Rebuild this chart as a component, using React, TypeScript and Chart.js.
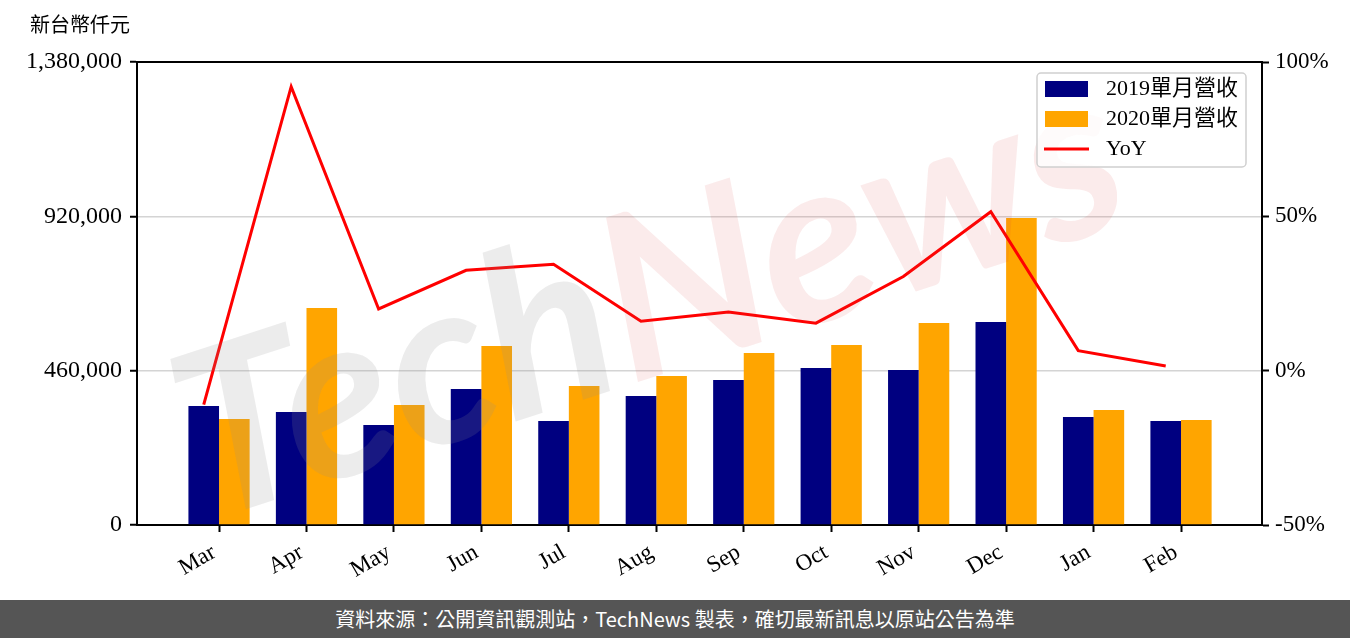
import { useEffect, useRef } from "react";
import { Chart, registerables } from "chart.js";

Chart.register(...registerables);

const months = ["Mar", "Apr", "May", "Jun", "Jul", "Aug", "Sep", "Oct", "Nov", "Dec", "Jan", "Feb"];
const revenue2019 = [355000, 337000, 298000, 405000, 310000, 384500, 432000, 468000, 462000, 605000, 322000, 310000];
const revenue2020 = [316000, 647000, 358000, 533500, 414000, 444000, 513000, 536500, 602000, 915000, 343000, 313000];
const yoyPercent = [-11, 92, 20, 32.5, 34.5, 16, 19, 15.4, 30.5, 51.5, 6.5, 1.5];
const leftTicks = [0, 460000, 920000, 1380000];
const rightTicks = [-50, 0, 50, 100];
const label2019 = "2019單月營收";
const label2020 = "2020單月營收";
const labelYoY = "YoY";
const unitTitle = "新台幣仟元";
const footerText = "資料來源：公開資訊觀測站，TechNews 製表，確切最新訊息以原站公告為準";

const SERIF = '"Liberation Serif", "Noto Sans CJK TC", serif';

const decorPlugin = {
  id: "decor",
  afterDatasetsDraw(chart: any) {
    const { ctx } = chart;
    // watermark
    ctx.save();
    ctx.translate(650, 300);
    ctx.rotate((-18 * Math.PI) / 180);
    ctx.font = 'italic bold 230px "Lato", "DejaVu Sans", sans-serif';
    ctx.textBaseline = "middle";
    const w1 = ctx.measureText("Tech").width;
    const w2 = ctx.measureText("News").width;
    const start = -(w1 + w2) / 2;
    ctx.textAlign = "left";
    ctx.fillStyle = "rgba(140,140,140,0.17)";
    ctx.fillText("Tech", start, 0);
    ctx.fillStyle = "rgba(220,60,60,0.10)";
    ctx.fillText("News", start + w1, 0);
    ctx.restore();
  },
  afterDraw(chart: any) {
    const { ctx, chartArea } = chart;
    ctx.save();
    // top spine
    ctx.strokeStyle = "#000";
    ctx.lineWidth = 2;
    ctx.beginPath();
    ctx.moveTo(chartArea.left - 1, chartArea.top);
    ctx.lineTo(chartArea.right + 1, chartArea.top);
    ctx.stroke();

    // unit title
    ctx.fillStyle = "#000";
    ctx.font = `20px ${SERIF}`;
    ctx.textAlign = "left";
    ctx.textBaseline = "middle";
    ctx.fillText(unitTitle, 30, 27);

    // legend
    const bx = 1037, by = 73, bw = 209, bh = 94, r = 4;
    ctx.beginPath();
    ctx.moveTo(bx + r, by);
    ctx.lineTo(bx + bw - r, by);
    ctx.arcTo(bx + bw, by, bx + bw, by + r, r);
    ctx.lineTo(bx + bw, by + bh - r);
    ctx.arcTo(bx + bw, by + bh, bx + bw - r, by + bh, r);
    ctx.lineTo(bx + r, by + bh);
    ctx.arcTo(bx, by + bh, bx, by + bh - r, r);
    ctx.lineTo(bx, by + r);
    ctx.arcTo(bx, by, bx + r, by, r);
    ctx.closePath();
    ctx.fillStyle = "rgba(255,255,255,0.8)";
    ctx.fill();
    ctx.strokeStyle = "#d0d0d0";
    ctx.lineWidth = 1.5;
    ctx.stroke();

    const ds = chart.data.datasets;
    const rowsY = [89, 119, 149];
    [0, 1, 2].forEach((di, k) => {
      const d = ds[di];
      const cy = rowsY[k];
      if (d.type === "line") {
        ctx.strokeStyle = d.borderColor;
        ctx.lineWidth = 3;
        ctx.beginPath();
        ctx.moveTo(1044, cy);
        ctx.lineTo(1089, cy);
        ctx.stroke();
      } else {
        ctx.fillStyle = d.backgroundColor;
        ctx.fillRect(1045, cy - 8, 43, 16);
      }
      ctx.fillStyle = "#000";
      ctx.font = `22px ${SERIF}`;
      ctx.textAlign = "left";
      ctx.textBaseline = "middle";
      ctx.fillText(d.label, 1106, cy);
    });
    ctx.restore();
  },
};

export default function App() {
  const canvasRef = useRef<HTMLCanvasElement | null>(null);

  useEffect(() => {
    const canvas = canvasRef.current;
    if (!canvas) return;
    const xMin = -0.938;
    const xMax = 11.926;
    const lineShift = -0.175; // line points sit at the centre of the 2019 bar
    const chart = new Chart(canvas, {
      type: "bar",
      data: {
        datasets: [
          {
            type: "bar",
            label: label2019,
            data: revenue2019.map((v, i) => ({ x: i, y: v })),
            backgroundColor: "#000080",
            yAxisID: "y",
            order: 2,
            categoryPercentage: 0.7,
            barPercentage: 1.0,
          },
          {
            type: "bar",
            label: label2020,
            data: revenue2020.map((v, i) => ({ x: i, y: v })),
            backgroundColor: "#FFA500",
            yAxisID: "y",
            order: 2,
            categoryPercentage: 0.7,
            barPercentage: 1.0,
          },
          {
            type: "line",
            label: labelYoY,
            data: yoyPercent.map((v, i) => ({ x: i + lineShift, y: v })),
            borderColor: "#FF0000",
            backgroundColor: "#FF0000",
            borderWidth: 3,
            pointRadius: 0,
            tension: 0,
            yAxisID: "y1",
            order: 1,
          } as any,
        ],
      },
      options: {
        animation: false,
        responsive: false,
        maintainAspectRatio: false,
        devicePixelRatio: 1,
        layout: { padding: { left: 0, right: 0, top: 62, bottom: 0 } },
        plugins: {
          legend: { display: false },
          tooltip: { enabled: false },
          title: { display: false },
        },
        scales: {
          x: {
            type: "linear",
            min: xMin,
            max: xMax,
            offset: false,
            afterBuildTicks: (scale: any) => {
              scale.ticks = months.map((_, i) => ({ value: i }));
            },
            afterFit: (scale: any) => {
              scale.height = 75;
            },
            ticks: {
              autoSkip: false,
              maxRotation: 30,
              minRotation: 30,
              padding: 4,
              color: "#000",
              font: { family: SERIF, size: 23 },
              callback: (v: any) => (months[Math.round(Number(v))] ?? "") + " ",
            },
            grid: {
              offset: false,
              drawOnChartArea: false,
              drawTicks: true,
              tickLength: 7,
              tickColor: "#000",
              tickWidth: 2,
              color: "#000",
            },
            border: { display: true, color: "#000", width: 2 },
          },
          y: {
            type: "linear",
            position: "left",
            min: leftTicks[0],
            max: leftTicks[leftTicks.length - 1],
            afterBuildTicks: (scale: any) => {
              scale.ticks = leftTicks.map((v) => ({ value: v }));
            },
            afterFit: (scale: any) => {
              scale.width = 137;
            },
            ticks: {
              padding: 8,
              color: "#000",
              font: { family: SERIF, size: 24 },
              callback: (v: any) => Number(v).toLocaleString("en-US"),
            },
            grid: {
              drawOnChartArea: true,
              drawTicks: true,
              tickLength: 7,
              tickColor: "#000",
              tickWidth: 2,
              lineWidth: 1.5,
              color: (c: any) =>
                c.tick && (c.tick.value === leftTicks[0] || c.tick.value === leftTicks[leftTicks.length - 1])
                  ? "rgba(0,0,0,0)"
                  : "#d4d4d4",
            },
            border: { display: true, color: "#000", width: 2 },
          },
          y1: {
            type: "linear",
            position: "right",
            min: rightTicks[0],
            max: rightTicks[rightTicks.length - 1],
            afterBuildTicks: (scale: any) => {
              scale.ticks = rightTicks.map((v) => ({ value: v }));
            },
            afterFit: (scale: any) => {
              scale.width = 88;
            },
            ticks: {
              padding: 6,
              color: "#000",
              font: { family: SERIF, size: 23 },
              callback: (v: any) => `${v}%`,
            },
            grid: {
              drawOnChartArea: false,
              drawTicks: true,
              tickLength: 7,
              tickColor: "#000",
              tickWidth: 2,
              color: "#000",
            },
            border: { display: true, color: "#000", width: 2 },
          },
        },
      },
      plugins: [decorPlugin],
    } as any);
    return () => chart.destroy();
  }, []);

  return (
    <div style={{ position: "fixed", left: 0, top: 0, width: 1350, height: 638, background: "#fff" }}>
      <canvas ref={canvasRef} width={1350} height={600} style={{ display: "block", width: 1350, height: 600 }} />
      <div
        style={{
          position: "absolute",
          left: 0,
          top: 600,
          width: 1350,
          height: 38,
          background: "#555555",
          color: "#fff",
          fontFamily: '"Noto Sans CJK TC", "Noto Sans", sans-serif',
          fontSize: 20,
          lineHeight: "38px",
          textAlign: "center",
          whiteSpace: "nowrap",
        }}
      >
        {footerText}
      </div>
    </div>
  );
}
